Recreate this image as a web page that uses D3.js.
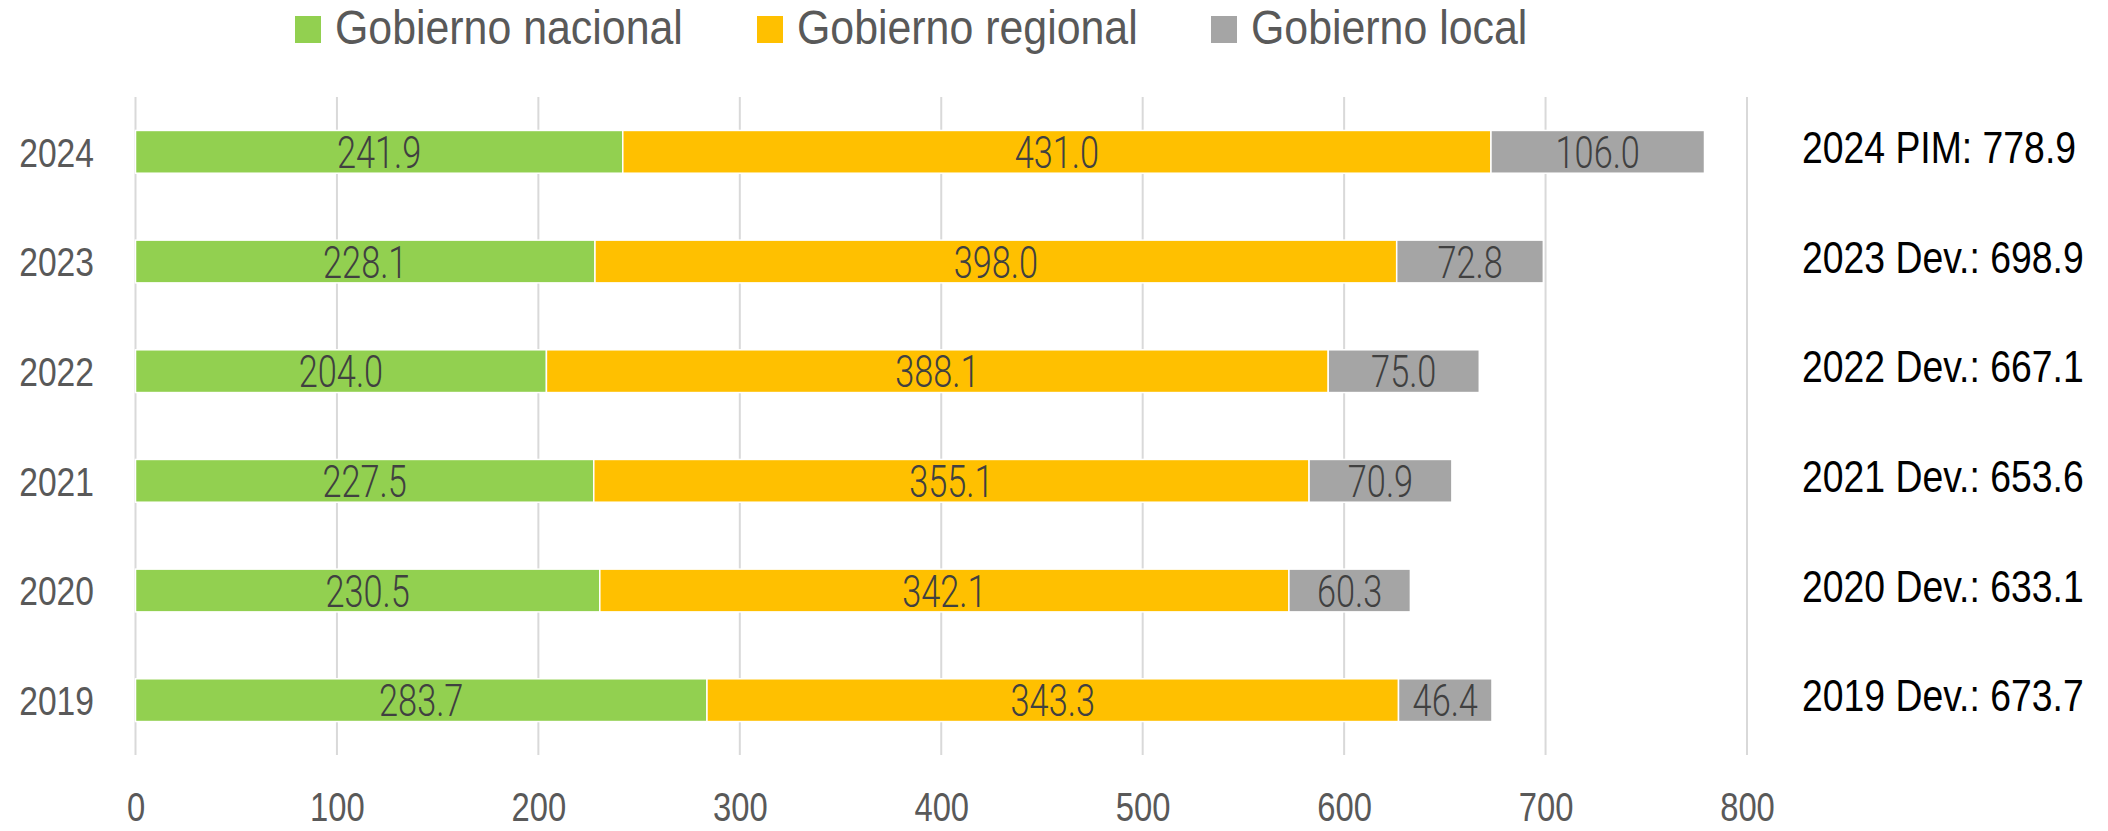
<!DOCTYPE html>
<html><head><meta charset="utf-8">
<script src="https://cdn.jsdelivr.net/npm/d3@7"></script>
<style>
html,body{margin:0;padding:0;background:#fff;}
svg{display:block;}
text{font-family:"Liberation Sans",Arial,sans-serif;}
</style></head>
<body><svg id="chart" width="2108" height="831"></svg>
<script>
const years = ["2024","2023","2022","2021","2020","2019"];
const seriesNames = ["Gobierno nacional","Gobierno regional","Gobierno local"];
const nacional = [241.9,228.1,204.0,227.5,230.5,283.7];
const regional = [431.0,398.0,388.1,355.1,342.1,343.3];
const local = [106.0,72.8,75.0,70.9,60.3,46.4];
const totalLabels = ["2024 PIM: 778.9","2023 Dev.: 698.9","2022 Dev.: 667.1","2021 Dev.: 653.6","2020 Dev.: 633.1","2019 Dev.: 673.7"];
const xTicks = [0,100,200,300,400,500,600,700,800];
const colors = ["#92D050","#FFC000","#A5A5A5"];

const SX = 0.82; // horizontal condensing of the font
const svg = d3.select("#chart");
const x = d3.scaleLinear().domain([0,800]).range([135.5,1747]);
const y = d3.scaleBand().domain(years).range([97,755]).paddingInner(0.61).paddingOuter(0.305);

// gridlines
svg.append("g").selectAll("line").data(xTicks).join("line")
  .attr("x1",d=>x(d)).attr("x2",d=>x(d)).attr("y1",97).attr("y2",755)
  .attr("stroke","#D9D9D9").attr("stroke-width",2);

// x axis labels
const xAxis = d3.axisBottom(x).tickValues(xTicks).tickSize(0).tickPadding(0).tickFormat(d3.format("d"));
const gx = svg.append("g").attr("transform","translate(0,792)").call(xAxis);
gx.select(".domain").remove();
gx.selectAll("text").attr("font-size",40).attr("fill","#595959").attr("dy","0.72em")
  .attr("transform",`scale(${SX},1)`)
  .style("font-family",'"Liberation Sans",Arial,sans-serif');

// y axis labels
const yAxis = d3.axisLeft(y).tickSize(0).tickPadding(0);
const gy = svg.append("g").attr("transform","translate(94,0)").call(yAxis);
gy.select(".domain").remove();
gy.selectAll("text").attr("font-size",41).attr("fill","#595959").attr("dy","0.36em")
  .attr("transform",`scale(${SX},1)`)
  .style("font-family",'"Liberation Sans",Arial,sans-serif');

// stacked data
const rows = years.map((yr,i)=>({year:yr, nacional:nacional[i], regional:regional[i], local:local[i]}));
const stack = d3.stack().keys(["nacional","regional","local"]);
const stacked = stack(rows);

const layers = svg.append("g").selectAll("g").data(stacked).join("g")
  .attr("fill",(d,i)=>colors[i]);
layers.selectAll("rect").data(d=>d).join("rect")
  .attr("x",d=>x(d[0])).attr("width",d=>x(d[1])-x(d[0]))
  .attr("y",d=>y(d.data.year)).attr("height",y.bandwidth())
  .attr("stroke","#ffffff").attr("stroke-width",1.5);

// data labels
const lbl = svg.append("g");
stacked.forEach((layer,li)=>{
  lbl.selectAll(null).data(layer).join("text")
    .attr("transform",d=>`translate(${(x(d[0])+x(d[1]))/2},${y(d.data.year)+y.bandwidth()/2}) scale(0.78,1)`)
    .attr("dy","0.37em").attr("text-anchor","middle")
    .attr("font-size",44).attr("fill","#404040")
    .style("font-family","Roboto,'Liberation Sans',sans-serif").attr("font-weight",300)
    .text(d=>d3.format(".1f")(d[1]-d[0]));
});

// total labels
svg.append("g").selectAll("text").data(years).join("text")
  .attr("transform",d=>`translate(1802,${y(d)+y.bandwidth()/2-5}) scale(0.83,1)`)
  .attr("dy","0.36em")
  .attr("font-size",45).attr("fill","#000")
  .text((d,i)=>totalLabels[i]);

// legend
const legendX = [295,757,1211];
const leg = svg.append("g").selectAll("g").data(seriesNames).join("g")
  .attr("transform",(d,i)=>`translate(${legendX[i]},0)`);
leg.append("rect").attr("x",0).attr("y",16).attr("width",26).attr("height",27).attr("fill",(d,i)=>colors[i]);
leg.append("text").attr("transform","translate(40,44) scale(0.875,1)")
  .attr("font-size",49).attr("fill","#595959").text(d=>d);
</script>
</body></html>
